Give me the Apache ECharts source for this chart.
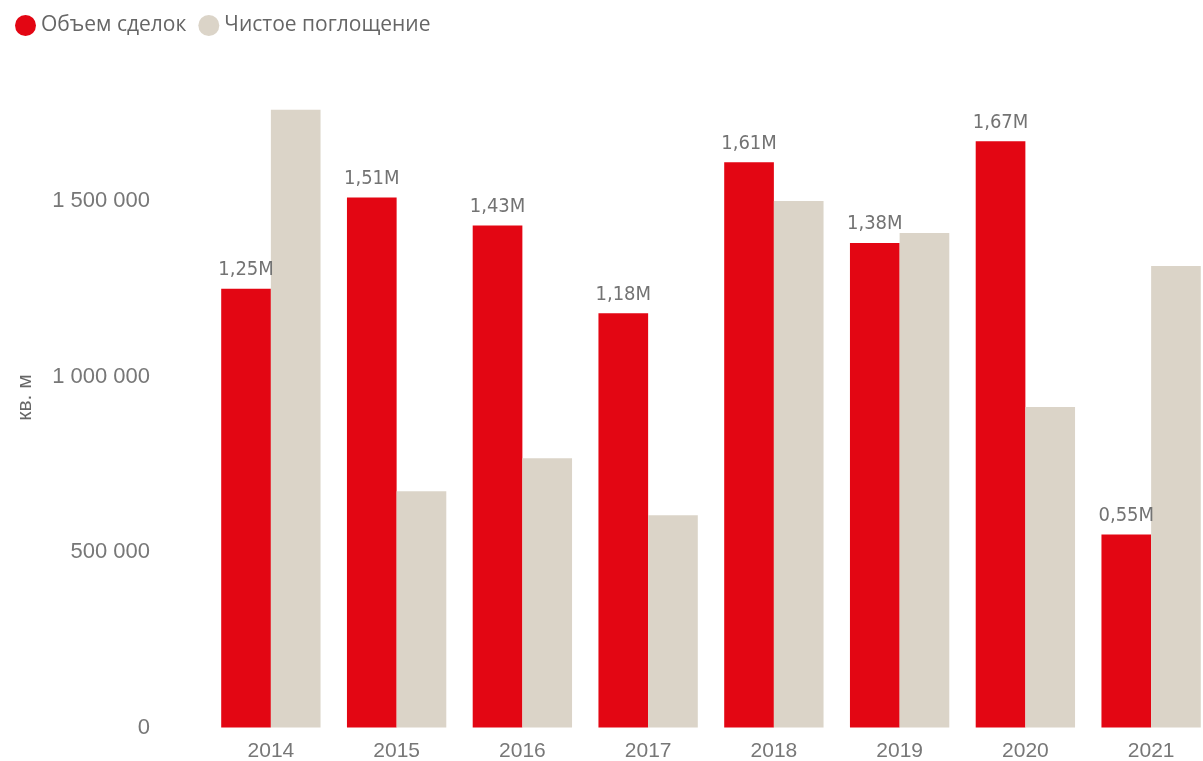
<!DOCTYPE html>
<html><head><meta charset="utf-8">
<script src="https://cdn.jsdelivr.net/npm/echarts@6/dist/echarts.min.js"></script>
<style>html,body{margin:0;padding:0;background:#fff}#c{width:1203px;height:761px}</style>
</head><body><div id="c"></div>
<script>
const categories = ['2014','2015','2016','2017','2018','2019','2020','2021'];
const dealVolume = [1250000, 1510000, 1430000, 1180000, 1610000, 1380000, 1670000, 550000];
const netAbsorption = [1760000, 673000, 767000, 605000, 1500000, 1409000, 913000, 1315000];
const seriesNames = ['Объем сделок', 'Чистое поглощение'];
const yTickLabels = {0:'0', 500000:'500 000', 1000000:'1 000 000', 1500000:'1 500 000'};

const chart = echarts.init(document.getElementById('c'));
chart.setOption({
  animation: false,
  legend: {
    left: 10, top: 10, itemWidth: 21, itemHeight: 21, itemGap: 12, icon: 'circle',
    textStyle: {fontFamily: 'Open Sans', fontSize: 21, color: '#666'},
    data: seriesNames
  },
  grid: {left: 208, right: -11, top: 67.6, bottom: 33.5, containLabel: false, outerBoundsMode: 'none'},
  xAxis: {
    type: 'category', data: categories,
    axisLine: {show: false}, axisTick: {show: false},
    axisLabel: {fontFamily: 'Liberation Sans', fontSize: 21, color: '#777', margin: 13}
  },
  yAxis: {
    type: 'value', min: 0, max: 1880000, interval: 500000,
    name: 'кв. м', nameLocation: 'middle', nameGap: 172, nameRotate: 90,
    nameTextStyle: {fontFamily: 'Liberation Sans', fontSize: 21, color: '#666'},
    splitLine: {show: false}, axisLine: {show: false}, axisTick: {show: false},
    axisLabel: {
      fontFamily: 'Liberation Sans', fontSize: 22, color: '#777', margin: 58,
      showMaxLabel: false,
      formatter: v => yTickLabels[v] !== undefined ? yTickLabels[v] : ''
    }
  },
  series: [
    {
      name: seriesNames[0], type: 'bar', data: dealVolume,
      itemStyle: {color: '#E30613'}, barGap: '0%', barCategoryGap: '21%',
      label: {
        show: true, position: 'top', distance: 9,
        fontFamily: 'DejaVu Sans Condensed', fontSize: 20, color: '#737373',
        formatter: p => (p.value / 1e6).toFixed(2).replace('.', ',') + 'M'
      }
    },
    {
      name: seriesNames[1], type: 'bar', data: netAbsorption,
      itemStyle: {color: '#DBD4C8'}, barGap: '0%', barCategoryGap: '21%'
    }
  ]
});
</script></body></html>
